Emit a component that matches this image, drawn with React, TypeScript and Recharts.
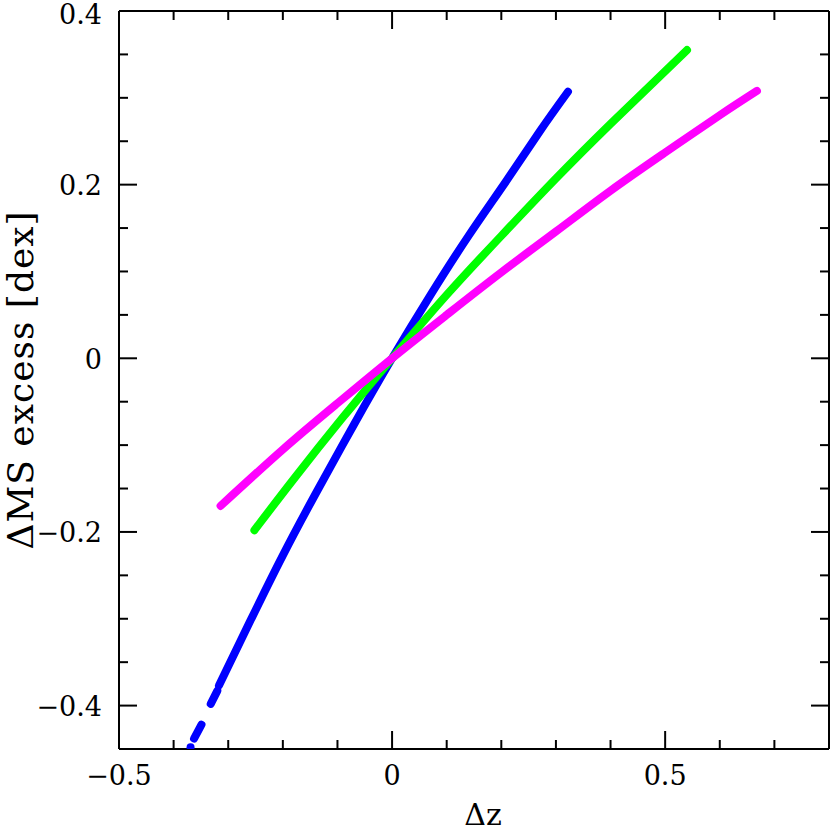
import React from 'react';
import { ComposedChart, Line, Scatter, XAxis, YAxis } from 'recharts';

// ---- axis ticks ----
const xTickValues = [-0.5, -0.4, -0.3, -0.2, -0.1, 0, 0.1, 0.2, 0.3, 0.4, 0.5, 0.6, 0.7, 0.8];
const xMajorTicks = [-0.5, 0, 0.5];
const yTickValues = [-0.45, -0.4, -0.35, -0.3, -0.25, -0.2, -0.15, -0.1, -0.05, 0, 0.05, 0.1, 0.15, 0.2, 0.25, 0.3, 0.35, 0.4];
const yMajorTicks = [-0.4, -0.2, 0, 0.2, 0.4];
const xDomain = [-0.5, 0.8];
const yDomain = [-0.45, 0.4];

// ---- series ----
const blueDot = [{ x: -0.369, y: -0.448 }];
const blueDash1 = [{ x: -0.3626, y: -0.438 }, { x: -0.349, y: -0.422 }];
const blueDash2 = [{ x: -0.332, y: -0.398 }, { x: -0.32, y: -0.383 }];
const blueMain = [
  { x: -0.317, y: -0.377 },
  { x: -0.26, y: -0.303 },
  { x: -0.2, y: -0.227 },
  { x: -0.14, y: -0.156 },
  { x: -0.07, y: -0.0765 },
  { x: 0, y: 0 },
  { x: 0.07, y: 0.0725 },
  { x: 0.14, y: 0.141 },
  { x: 0.21, y: 0.205 },
  { x: 0.27, y: 0.261 },
  { x: 0.322, y: 0.307 },
];
const greenLine = [
  { x: -0.252, y: -0.198 },
  { x: -0.18, y: -0.139 },
  { x: -0.09, y: -0.068 },
  { x: 0, y: 0 },
  { x: 0.1, y: 0.073 },
  { x: 0.2, y: 0.141 },
  { x: 0.3, y: 0.207 },
  { x: 0.4, y: 0.27 },
  { x: 0.54, y: 0.355 },
];
const pinkLine = [
  { x: -0.314, y: -0.17 },
  { x: -0.2, y: -0.105 },
  { x: -0.1, y: -0.0518 },
  { x: 0, y: 0 },
  { x: 0.1, y: 0.05 },
  { x: 0.2, y: 0.099 },
  { x: 0.3, y: 0.146 },
  { x: 0.4, y: 0.193 },
  { x: 0.5, y: 0.237 },
  { x: 0.6, y: 0.28 },
  { x: 0.668, y: 0.308 },
];

const BLUE = '#0000ff';
const GREEN = '#00ff00';
const PINK = '#ff00ff';
const FONT = '"DejaVu Serif", serif';

const isMajor = (v: number, list: number[]) => list.some((m) => Math.abs(m - v) < 1e-9);
const fmt = (v: number) => (Math.abs(v) < 1e-9 ? '0' : v < 0 ? '\u2212' + String(Math.abs(v)) : String(v));

const MAJOR = 18;
const MINOR = 9;

const BottomTick = (p: any) => {
  const { x, y, payload } = p;
  const v = payload.value;
  const major = isMajor(v, xMajorTicks);
  return (
    <g>
      <line x1={x} x2={x} y1={y} y2={y - (major ? MAJOR : MINOR)} stroke="#000" strokeWidth={2} />
      {major && (
        <text x={x} y={y + 36} textAnchor="middle" fontFamily={FONT} fontSize={27} fill="#000">
          {fmt(v)}
        </text>
      )}
    </g>
  );
};
const TopTick = (p: any) => {
  const { x, y, payload } = p;
  const major = isMajor(payload.value, xMajorTicks);
  return <line x1={x} x2={x} y1={y} y2={y + (major ? MAJOR : MINOR)} stroke="#000" strokeWidth={2} />;
};
const LeftTick = (p: any) => {
  const { x, y, payload } = p;
  const v = payload.value;
  const major = isMajor(v, yMajorTicks);
  return (
    <g>
      <line x1={x} x2={x + (major ? MAJOR : MINOR)} y1={y} y2={y} stroke="#000" strokeWidth={2} />
      {major && (
        <text x={x - 17} y={Math.max(y + 10.5, 24)} textAnchor="end" fontFamily={FONT} fontSize={27} fill="#000">
          {fmt(v)}
        </text>
      )}
    </g>
  );
};
const RightTick = (p: any) => {
  const { x, y, payload } = p;
  const major = isMajor(payload.value, yMajorTicks);
  return <line x1={x} x2={x - (major ? MAJOR : MINOR)} y1={y} y2={y} stroke="#000" strokeWidth={2} />;
};

const XTitle = (p: any) => {
  const vb = p.viewBox || { x: 119, y: 749, width: 710, height: 83 };
  return (
    <text x={vb.x + vb.width / 2 + 9} y={vb.y + 76} textAnchor="middle" fontFamily={FONT} fontSize={30} fill="#000">
      Δz
    </text>
  );
};
const YTitle = (p: any) => {
  const vb = p.viewBox || { x: 0, y: 11, width: 119, height: 738 };
  const cx = 20;
  const cy = vb.y + vb.height / 2;
  return (
    <text
      x={cx}
      y={cy}
      transform={`rotate(-90 ${cx} ${cy})`}
      textAnchor="middle"
      dominantBaseline="central"
      fontFamily={FONT}
      fontSize={36}
      letterSpacing={1}
      fill="#000"
    >
      ΔMS excess [dex]
    </text>
  );
};

const axisLine = { stroke: '#000', strokeWidth: 2 };

export default function App() {
  return (
    <div style={{ position: 'absolute', left: 0, top: 0, background: '#fff' }}>
      <ComposedChart width={830} height={832} margin={{ top: 10, right: 0, bottom: 0, left: 0 }}>
        <XAxis
          xAxisId="b"
          type="number"
          dataKey="x"
          domain={xDomain}
          ticks={xTickValues}
          allowDataOverflow
          orientation="bottom"
          height={83}
          interval={0}
          tickLine={false}
          tickSize={0}
          tickMargin={0}
          axisLine={axisLine}
          tick={(p: any) => <BottomTick {...p} />}
          label={<XTitle />}
        />
        <XAxis
          xAxisId="t"
          type="number"
          dataKey="x"
          domain={xDomain}
          ticks={xTickValues}
          allowDataOverflow
          orientation="top"
          height={1}
          interval={0}
          tickLine={false}
          tickSize={0}
          tickMargin={0}
          axisLine={axisLine}
          tick={(p: any) => <TopTick {...p} />}
        />
        <YAxis
          yAxisId="l"
          type="number"
          dataKey="y"
          domain={yDomain}
          ticks={yTickValues}
          allowDataOverflow
          orientation="left"
          width={119}
          interval={0}
          tickLine={false}
          tickSize={0}
          tickMargin={0}
          axisLine={axisLine}
          tick={(p: any) => <LeftTick {...p} />}
          label={<YTitle />}
        />
        <YAxis
          yAxisId="r"
          type="number"
          dataKey="y"
          domain={yDomain}
          ticks={yTickValues}
          allowDataOverflow
          orientation="right"
          width={1}
          interval={0}
          tickLine={false}
          tickSize={0}
          tickMargin={0}
          axisLine={axisLine}
          tick={(p: any) => <RightTick {...p} />}
        />
        <Scatter
          xAxisId="b"
          yAxisId="l"
          data={blueDot}
          dataKey="y"
          isAnimationActive={false}
          shape={(p: any) => <circle cx={p.cx} cy={p.cy} r={4} fill={BLUE} />}
        />
        {[blueDash1, blueDash2, blueMain].map((d, i) => (
          <Line
            key={'b' + i}
            xAxisId="b"
            yAxisId="l"
            data={d}
            dataKey="y"
            type="natural"
            stroke={BLUE}
            strokeWidth={8}
            strokeLinecap="round"
            dot={false}
            isAnimationActive={false}
          />
        ))}
        <Line
          xAxisId="b"
          yAxisId="l"
          data={greenLine}
          dataKey="y"
          type="natural"
          stroke={GREEN}
          strokeWidth={8}
          strokeLinecap="round"
          dot={false}
          isAnimationActive={false}
        />
        <Line
          xAxisId="b"
          yAxisId="l"
          data={pinkLine}
          dataKey="y"
          type="natural"
          stroke={PINK}
          strokeWidth={8}
          strokeLinecap="round"
          dot={false}
          isAnimationActive={false}
        />
      </ComposedChart>
    </div>
  );
}
